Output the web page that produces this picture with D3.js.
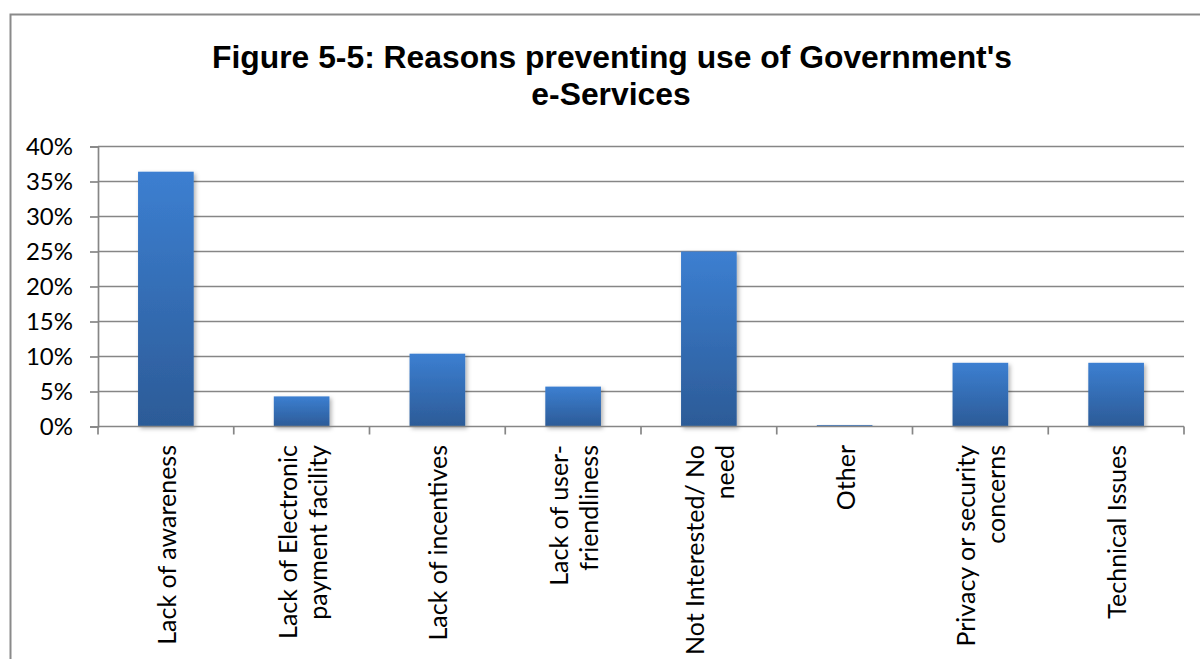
<!DOCTYPE html>
<html>
<head>
<meta charset="utf-8">
<script src="https://cdn.jsdelivr.net/npm/d3@7"></script>
<style>
  html, body { margin: 0; padding: 0; background: #fff; }
  svg { display: block; }
</style>
</head>
<body>
<svg id="chart" width="1200" height="659"></svg>
<script>
const titleLines = ["Figure 5-5: Reasons preventing use of Government's", "e-Services"];
const categories = [
  ["Lack of awareness"],
  ["Lack of Electronic", "payment facility"],
  ["Lack of incentives"],
  ["Lack of user-", "friendliness"],
  ["Not Interested/ No", "need"],
  ["Other"],
  ["Privacy or security", "concerns"],
  ["Technical Issues"]
];
const values = [36.4, 4.3, 10.4, 5.7, 25.0, 0.2, 9.1, 9.1];
const yTicks = [0, 5, 10, 15, 20, 25, 30, 35, 40];

const svg = d3.select("#chart");
const W = 1200, H = 659;
const plot = { left: 98, right: 1184, top: 146.5, bottom: 426.5 };
const FONT = "Lato, 'Open Sans', sans-serif";

// defs
const defs = svg.append("defs");
const grad = defs.append("linearGradient").attr("id", "barGrad")
  .attr("x1", 0).attr("y1", 0).attr("x2", 0).attr("y2", 1);
grad.append("stop").attr("offset", "0%").attr("stop-color", "#3c7fd1");
grad.append("stop").attr("offset", "100%").attr("stop-color", "#2c5b97");
const f = defs.append("filter").attr("id", "shadow")
  .attr("x", "-20%").attr("y", "-10%").attr("width", "150%").attr("height", "130%");
f.append("feDropShadow").attr("dx", 2).attr("dy", 2).attr("stdDeviation", 2)
  .attr("flood-color", "#000").attr("flood-opacity", 0.3);

// frame
svg.append("path")
  .attr("d", `M10.5,${H} L10.5,14.5 L${W},14.5`)
  .attr("fill", "none").attr("stroke", "#8a8a8a").attr("stroke-width", 2);

// title
const title = svg.append("text")
  .attr("font-family", "'Liberation Sans', Arial, sans-serif")
  .attr("font-weight", "bold")
  .attr("text-anchor", "middle")
  .attr("fill", "#000");
const t1 = title.append("tspan").attr("x", 612).attr("y", 67.5).text(titleLines[0]);
title.attr("font-size", 30);
const len = t1.node().getComputedTextLength();
const fs = 30 * 800 / len;
title.attr("font-size", fs);
title.append("tspan").attr("x", 611).attr("y", 105).text(titleLines[1]);

// scales
const x = d3.scaleBand().domain(d3.range(categories.length))
  .range([plot.left, plot.right]).padding(0);
const y = d3.scaleLinear().domain([0, 40]).range([plot.bottom, plot.top]);

// gridlines
svg.append("g").selectAll("line").data(yTicks.filter(d => d > 0)).join("line")
  .attr("x1", plot.left).attr("x2", plot.right)
  .attr("y1", d => y(d)).attr("y2", d => y(d))
  .attr("stroke", "#868686").attr("stroke-width", 1.7);

// bars
const bw = x.step() * 0.41;
svg.append("g").selectAll("rect").data(values).join("rect")
  .attr("x", (d, i) => x(i) + x.bandwidth() / 2 - bw / 2)
  .attr("width", bw)
  .attr("y", d => y(d))
  .attr("height", d => y(0) - y(d))
  .attr("fill", "url(#barGrad)")
  .attr("filter", "url(#shadow)");

// y axis
const yAxis = svg.append("g").attr("transform", `translate(${plot.left},0)`)
  .call(d3.axisLeft(y).tickValues(yTicks).tickSize(8).tickPadding(17).tickFormat(d => d + "%"));
yAxis.select(".domain").attr("stroke", "#868686").attr("stroke-width", 1.7);
yAxis.selectAll(".tick line").attr("stroke", "#868686").attr("stroke-width", 1.7);
yAxis.selectAll(".tick text").attr("font-family", FONT).attr("font-size", 24).attr("fill", "#000");

// x axis line + ticks at category boundaries
const xTickPos = categories.map((c, i) => x(i)).concat([plot.right]);
svg.append("line").attr("x1", plot.left).attr("x2", plot.right)
  .attr("y1", y(0)).attr("y2", y(0)).attr("stroke", "#868686").attr("stroke-width", 1.7);
svg.append("g").selectAll("line").data(xTickPos).join("line")
  .attr("x1", d => d).attr("x2", d => d)
  .attr("y1", y(0)).attr("y2", y(0) + 8)
  .attr("stroke", "#868686").attr("stroke-width", 1.7);

// x labels (rotated)
const lineH = 30;
const xl = svg.append("g").selectAll("text").data(categories).join("text")
  .attr("transform", (d, i) => `translate(${x(i) + x.bandwidth() / 2},445) rotate(-90)`)
  .attr("text-anchor", "end")
  .attr("font-family", FONT).attr("font-size", 25).attr("fill", "#000");
xl.each(function(lines) {
  const t = d3.select(this);
  lines.forEach((ln, j) => {
    t.append("tspan").attr("x", 0)
      .attr("y", 10 + (j - (lines.length - 1) / 2) * lineH)
      .text(ln);
  });
});
</script>
</body>
</html>
